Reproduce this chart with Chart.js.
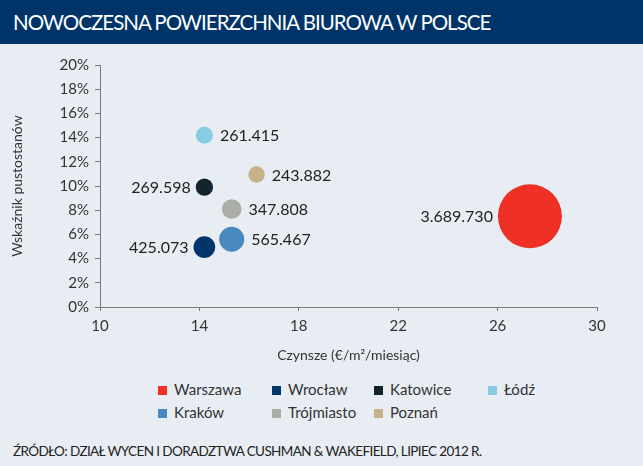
<!DOCTYPE html>
<html>
<head>
<meta charset="utf-8">
<script src="https://cdn.jsdelivr.net/npm/chart.js@4/dist/chart.umd.min.js"></script>
<style>
  body { margin: 0; width: 643px; height: 466px; background: #e8edf4; font-family: Lato, "Open Sans", sans-serif; position: relative; overflow: hidden; }
  #head { position: absolute; left: 0; top: 0; width: 643px; height: 44px; background: #003468; color: #fff; font-size: 20.5px; letter-spacing: -1px; line-height: 44px; padding-left: 13px; box-sizing: border-box; }
  #wrap { position: absolute; left: 0; top: 44px; width: 643px; height: 330px; }
  #legend { position: absolute; left: 158px; top: 380px; display: grid; grid-template-columns: 114px 102px 114px 100px; grid-auto-rows: 23px; font-size: 15px; color: #333; }
  #legend span.box { display: inline-block; width: 9px; height: 9px; margin-right: 7px; vertical-align: 0px; }
  #source { position: absolute; left: 13px; top: 443px; font-size: 13.5px; letter-spacing: -0.6px; color: #222; }
</style>
</head>
<body>
<div id="head">NOWOCZESNA POWIERZCHNIA BIUROWA W POLSCE</div>
<div id="wrap"><canvas id="myChart"></canvas></div>
<div id="legend"></div>
<div id="source">ŹRÓDŁO: DZIAŁ WYCEN I DORADZTWA CUSHMAN &amp; WAKEFIELD, LIPIEC 2012 R.</div>
<script>
// cities, rents (EUR/m2/month), vacancy (%), office stock (m2)
const cities = ['Warszawa', 'Wrocław', 'Katowice', 'Łódź', 'Kraków', 'Trójmiasto', 'Poznań'];
const rent = [27.3, 14.2, 14.2, 14.2, 15.3, 15.3, 16.3];
const vacancy = [7.5, 4.95, 9.9, 14.2, 5.6, 8.1, 10.95];
const stock = [3689730, 425073, 269598, 261415, 565467, 347808, 243882];
const stockLabels = ['3.689.730', '425.073', '269.598', '261.415', '565.467', '347.808', '243.882'];
const labelSide = ['left', 'left', 'left', 'right', 'right', 'right', 'right'];
const colors = ['#ee3124', '#00356b', '#13242f', '#87cce2', '#4a88c0', '#aaaea6', '#c7b08a'];
const xTicks = [10, 14, 18, 22, 26, 30];

const maxStock = Math.max(...stock);
const radius = v => 32 * Math.sqrt(v / maxStock);

// legend: two rows of four columns, like the picture
const legendEl = document.getElementById('legend');
cities.forEach((c, i) => {
    const d = document.createElement('div');
    d.innerHTML = '<span class="box" style="background:' + colors[i] + '"></span>' + c;
    legendEl.appendChild(d);
});

const datasets = cities.map((c, i) => ({
    label: c,
    data: [{ x: rent[i], y: vacancy[i], r: radius(stock[i]) }],
    backgroundColor: colors[i],
    borderWidth: 0,
    hoverRadius: 0
}));

const valueLabels = {
    id: 'valueLabels',
    afterDatasetsDraw(chart) {
        const ctx = chart.ctx;
        ctx.save();
        ctx.font = '16px Lato, "Open Sans", sans-serif';
        ctx.fillStyle = '#222';
        ctx.textBaseline = 'middle';
        chart.data.datasets.forEach((ds, i) => {
            const el = chart.getDatasetMeta(i).data[0];
            const r = ds.data[0].r;
            if (labelSide[i] === 'left') {
                ctx.textAlign = 'right';
                ctx.fillText(stockLabels[i], el.x - r - 5, el.y + 1);
            } else {
                ctx.textAlign = 'left';
                ctx.fillText(stockLabels[i], el.x + r + 7, el.y + 1);
            }
        });
        ctx.restore();
    }
};

const ctx = document.getElementById('myChart').getContext('2d');
new Chart(ctx, {
    type: 'bubble',
    data: { datasets: datasets },
    plugins: [valueLabels],
    options: {
        responsive: true,
        maintainAspectRatio: false,
        animation: false,
        events: [],
        layout: { autoPadding: false, padding: { top: 21, right: 46, left: 0, bottom: 0 } },
        plugins: {
            legend: { display: false },
            tooltip: { enabled: false }
        },
        scales: {
            x: {
                type: 'linear',
                min: 10,
                max: 30,
                afterBuildTicks: s => { s.ticks = xTicks.map(v => ({ value: v })); },
                afterFit: s => { s.height = 67; },
                grid: { drawOnChartArea: false, tickLength: 4, color: '#7a7a7a' },
                border: { color: '#7a7a7a' },
                ticks: { color: '#333', font: { size: 15, family: 'Lato' }, padding: 6 },
                title: { display: true, text: 'Czynsze (€/m²/miesiąc)', color: '#333', font: { size: 14, family: 'Lato' }, padding: { bottom: 10 } }
            },
            y: {
                type: 'linear',
                min: 0,
                max: 20,
                afterFit: s => { s.width = 100; },
                grid: { drawOnChartArea: false, tickLength: 5, color: '#7a7a7a' },
                border: { color: '#7a7a7a' },
                ticks: { stepSize: 2, color: '#333', font: { size: 15, family: 'Lato' }, padding: 6, callback: v => v + '%' },
                title: { display: true, text: 'Wskaźnik pustostanów', color: '#333', font: { size: 14, family: 'Lato' }, padding: { top: 9 } }
            }
        }
    }
});
</script>
</body>
</html>
